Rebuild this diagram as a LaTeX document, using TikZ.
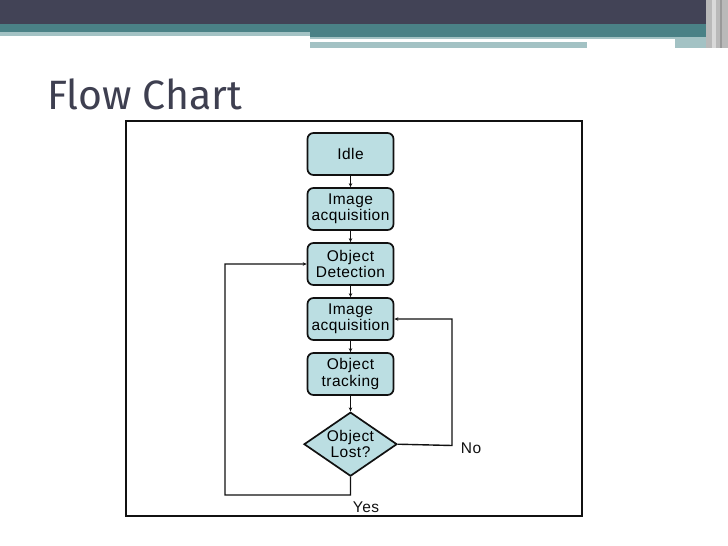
\documentclass[tikz,border=0pt]{standalone}
\usepackage{fontspec}
\setmainfont{Liberation Sans}
\newfontfamily\titlefont{Fira Sans}
\usetikzlibrary{positioning, arrows.meta, shapes.geometric}
\definecolor{clrbar}{HTML}{424356}
\definecolor{clrteal}{HTML}{4A8186}
\definecolor{clrtealpale}{HTML}{A3C2C4}
\definecolor{clrtitle}{HTML}{3E3F50}
\definecolor{clrboxfill}{HTML}{BBDEE2}
\definecolor{clrborder}{HTML}{111111}

\begin{document}
\begin{tikzpicture}[
    x=1pt, y=-1pt,
    >={Stealth[length=4pt, width=3.5pt]},
    every node/.style={font=\fontsize{15.5}{16.5}\selectfont\addfontfeature{LetterSpace=3}},
    stepbox/.style={draw=clrborder, fill=clrboxfill, rounded corners=6pt, line width=1.7pt,
                    minimum width=86pt, minimum height=42pt, inner sep=1pt, align=center},
    decision/.style={diamond, aspect=1.45, draw=clrborder, fill=clrboxfill, line width=1.7pt,
                     minimum width=93pt, minimum height=64pt, inner sep=-8pt, align=center},
    arrow/.style={->, line width=1.4pt, color=clrborder},
    label/.style={text=clrborder},
]
\useasboundingbox (0,0) rectangle (728,546);
% slide header
\fill[clrbar] (0,0) rectangle (728,24);
\fill[clrteal] (0,24) rectangle (728,32);
\fill[clrtealpale] (0,32) rectangle (310,36);
\fill[clrteal] (310,32) rectangle (708,37);
\fill[clrtealpale] (310,37) rectangle (675,39);
\fill[clrtealpale] (310,42) rectangle (587,48);
\fill[clrtealpale] (675,37) rectangle (708,48);
\fill[gray!55] (706,0) rectangle (728,48);
\fill[gray!30] (712,0) rectangle (716,48);
\fill[gray!80] (720,0) rectangle (722,48);
\node[anchor=base west, inner sep=0pt, text=clrtitle, font=\titlefont\fontsize{41}{44}\selectfont] (title) at (47,109) {Flow Chart};
% frame
\draw[line width=1.4pt, clrborder] (126,121) rectangle (582,516);
% flow
\node[stepbox] (idle) at (350.5,154) {Idle};
\node[stepbox, below=11.3pt of idle] (acq_1) {Image\\acquisition};
\node[stepbox, below=11.3pt of acq_1] (detect) {Object\\Detection};
\node[stepbox, below=11.3pt of detect] (acq_2) {Image\\acquisition};
\node[stepbox, below=11.3pt of acq_2] (track) {Object\\tracking};
\node[decision, below=15.5pt of track] (lost) {Object\\Lost?};
\coordinate (yes_turn) at (350.5,495);
\coordinate (no_turn) at (452,445.5);
\draw[arrow] (idle.south) -- (acq_1.north);
\draw[arrow] (acq_1.south) -- (detect.north);
\draw[arrow] (detect.south) -- (acq_2.north);
\draw[arrow] (acq_2.south) -- (track.north);
\draw[arrow] (track.south) -- (lost.north);
\draw[arrow] (lost.south) -- (yes_turn) -| (225,264) -- (detect.west);
\draw[arrow] (lost.east) -- (no_turn) |- (acq_2.east);
\node[label] (no_lbl) at (471,448) {No};
\node[label] (yes_lbl) at (366,507) {Yes};
\end{tikzpicture}
\end{document}
